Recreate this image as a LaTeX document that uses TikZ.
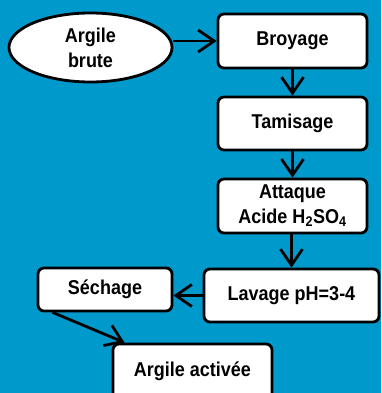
\documentclass[tikz,border=0pt]{standalone}
\usepackage{fontspec}
\setmainfont{Liberation Sans}[FakeStretch=0.9]
\usetikzlibrary{shapes.geometric,arrows.meta}
\definecolor{bgblue}{RGB}{0,153,204}
\begin{document}
\begin{tikzpicture}[x=1pt,y=-1pt,
  every node/.style={font=\fontsize{20}{25}\selectfont\bfseries, align=center, inner sep=0pt},
  box/.style={draw=black, line width=2.8pt, fill=white, rounded corners=6pt},
  arr/.style={draw=black, line width=2.8pt, -{Straight Barb[length=16pt,width=22pt,line width=2.8pt]}}]
\fill[bgblue] (0,0) rectangle (381,393);
\useasboundingbox (0,0) rectangle (381,393);
\begin{scope}
\clip (0,0) rectangle (381,393);
\node[draw=black, line width=2.8pt, fill=white, ellipse, minimum width=163pt, minimum height=69pt] (ell) at (90.5,47.5) {Argile\\brute};
\node[box, minimum width=149pt, minimum height=54pt] (br) at (292.5,41) {Broyage};
\node[box, minimum width=149pt, minimum height=53pt] (tam) at (292.5,123.5) {Tamisage};
\node[box, minimum width=149pt, minimum height=54pt] (att) at (292.5,206) {Attaque\\Acide H\textsubscript{2}SO\textsubscript{4}};
\node[box, minimum width=175pt, minimum height=53pt] (lav) at (291.5,295.5) {Lavage pH=3-4};
\node[box, minimum width=134pt, minimum height=43pt] (sech) at (105,289.5) {Séchage};
\node[box, minimum width=159pt, minimum height=56pt] (act) at (192.5,372) {\raisebox{6pt}{Argile activée}};
\draw[arr] (br.west -| ell.east) -- (br.west);
\draw[arr] (br) -- (tam);
\draw[arr] (tam) -- (att);
\draw[arr] (att.south -| lav.north) -- (lav.north);
\draw[arr] (lav.west) -- (lav.west -| sech.east);
\draw[arr] ([xshift=16pt]sech.south west) -- ([xshift=13pt]act.north west);
\end{scope}
\end{tikzpicture}
\end{document}
